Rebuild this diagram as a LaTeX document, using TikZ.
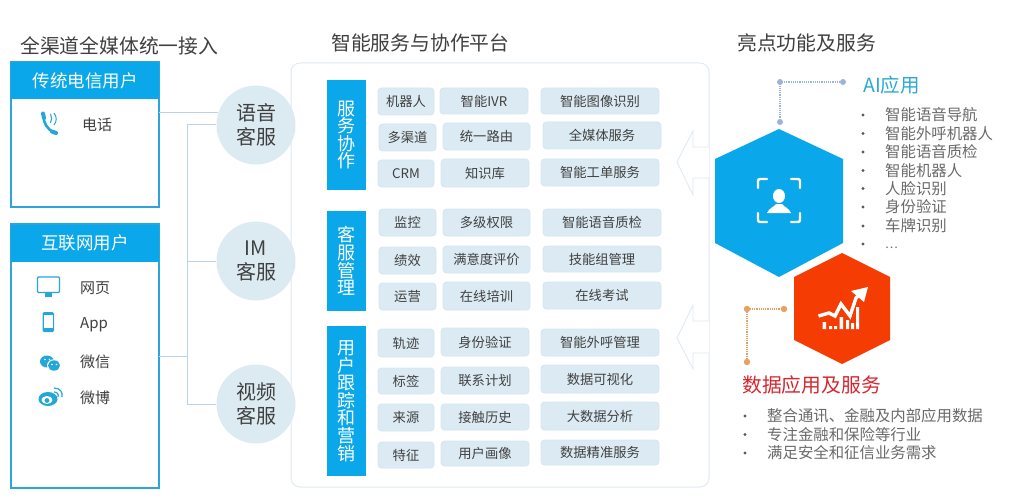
\documentclass[tikz,border=0pt]{standalone}
\usepackage{fontspec}
\setmainfont{Noto Sans CJK SC}
\usetikzlibrary{calc}
\definecolor{skyb}{HTML}{0AA8EA}
\definecolor{edgeb}{HTML}{2CA6DA}
\definecolor{cellf}{HTML}{DCEBF3}
\definecolor{celld}{HTML}{D6E6EE}
\definecolor{ringf}{HTML}{DCEBF2}
\definecolor{wire}{HTML}{BDD2E2}
\definecolor{frameline}{HTML}{E1E9F2}
\definecolor{ink}{HTML}{404040}
\definecolor{greyt}{HTML}{6A6A6A}
\definecolor{iconb}{HTML}{22A7D8}
\definecolor{aiblue}{HTML}{2BA9D4}
\definecolor{dotb}{HTML}{9DB4D6}
\definecolor{doto}{HTML}{E8A160}
\definecolor{redt}{HTML}{D8262F}
\definecolor{hexred}{HTML}{F53C02}
\newcommand{\fs}[2]{\fontsize{#1}{#2}\selectfont}
\tikzset{
  x=1pt,y=-1pt,
  cell/.style={draw=celld,fill=cellf,rounded corners=3.5pt,line width=.8pt,inner sep=0pt,text=ink,font=\fs{13.3}{15}},
  barbox/.style={fill=skyb,inner sep=0pt,text=white,align=center,font=\fs{18}{17.6}},
  headbox/.style={fill=skyb,inner sep=0pt,text=white,font=\fs{17.5}{20}},
  ringnode/.style={circle,fill=ringf,inner sep=0pt,minimum size=79pt,text=ink,align=center,font=\fs{20}{24.5}},
  heading/.style={text=ink,font=\fs{19.8}{22},inner sep=0pt,anchor=west},
  chan/.style={text=ink,font=\fs{15}{17},inner sep=0pt,anchor=west},
  item/.style={text=greyt,font=\fs{15.4}{17},inner sep=0pt,anchor=west},
  wireline/.style={draw=wire,line width=1pt},
  ghost/.style={draw=frameline,line width=.9pt,fill=white},
  bulletdot/.style={fill=greyt!85!black},
}
\newcommand{\cellbox}[6]{%
  \pgfmathsetmacro\cw{#4-#2}\pgfmathsetmacro\ch{#5-#3}%
  \node[cell,minimum width=\cw pt,minimum height=\ch pt] (#1) at ({(#2+#4)/2},{(#3+#5)/2}) {#6};}
\newcommand{\barnode}[5]{%
  \pgfmathsetmacro\ch{#4-#3}%
  \node[barbox,minimum width=39pt,minimum height=\ch pt] (#1) at (#2,{(#3+#4)/2}) {#5};}
\begin{document}
\begin{tikzpicture}
\useasboundingbox (0,0) rectangle (1015,500);
\fill[white] (0,0) rectangle (1015,500);

% titles
\node[heading] (t1) at (20,45.5) {全渠道全媒体统一接入};
\node[heading] (t2) at (331,42.5) {智能服务与协作平台};
\node[heading] (t3) at (737,42.5) {亮点功能及服务};

% left boxes
\draw[edgeb,line width=1.5pt] (11,62) rectangle (159,207);
\node[headbox,minimum width=148pt,minimum height=37pt] (tele) at (85,81) {传统电信用户};
\draw[edgeb,line width=1.5pt] (11,224) rectangle (159,488);
\node[headbox,minimum width=148pt,minimum height=37pt] (net) at (85,243) {互联网用户};
\node[chan] (l1) at (82,125) {电话};
\node[chan] (l2) at (80,288) {网页};
\node[chan] (l3) at (80,325) {App};
\node[chan] (l4) at (80,362) {微信};
\node[chan] (l5) at (80,398) {微博};

% icons: phone
\draw[iconb,line width=2.6pt,line cap=round] (43.5,116) .. controls (43.5,123) and (47,129) .. (54,132.5);
\draw[iconb,line width=4pt,line cap=round] (43,113.5) -- (44,118);
\draw[iconb,line width=4pt,line cap=round] (52,131.5) -- (56,133);
\draw[iconb,line width=1pt] (50.5,114) .. controls (52,117) and (52,120) .. (50.5,123);
\draw[iconb,line width=1pt] (54,113) .. controls (57,117) and (57,121) .. (54,125);
% monitor
\draw[iconb,line width=1.1pt,rounded corners=1pt] (37.5,277) rectangle (59.5,292.5);
\fill[iconb] (45,293) rectangle (52,296.5);
% mobile
\fill[iconb,rounded corners=1.5pt] (42.5,312) rectangle (54,332);
\fill[white] (44,315) rectangle (52.5,328);
% wechat
\fill[iconb] (47,361.5) ellipse [x radius=7,y radius=6];
\fill[white] (54,365.5) ellipse [x radius=7,y radius=6.2];
\fill[iconb] (54,365.5) ellipse [x radius=6,y radius=5.2];
\fill[white] (45,359.5) circle (.9) (49.5,359.5) circle (.9) (52,364.5) circle (.8) (56.5,364.5) circle (.8);
% weibo
\fill[iconb] (48,399) ellipse [x radius=9.5,y radius=7];
\fill[white] (47,400) ellipse [x radius=5.5,y radius=4];
\fill[iconb] (47,400.5) circle (2.4);
\draw[iconb,line width=1.2pt] (54,388) .. controls (60,388) and (63,392) .. (62,397);
\draw[iconb,line width=1.2pt] (54,392) .. controls (57,392) and (59,394) .. (58,397);

% platform frame
\draw[frameline,line width=1pt,rounded corners=9pt] (291,63) rectangle (709,487);

% service circles
\node[ringnode] (voice) at (256,125) {语音\\客服};
\node[ringnode] (im) at (256,261) {IM\\客服};
\node[ringnode] (video) at (256,404) {视频\\客服};

% connectors
\coordinate (bus) at (187,356);
\draw[wireline] (tele.east |- voice.162.5) -- (voice.162.5);
\draw[wireline] (voice.west) -- (bus |- voice.west) -- (bus |- video.west) -- (video.west);
\draw[wireline] (bus |- im.west) -- (im.west);
\draw[wireline] (net.east |- bus) -- (bus);

% bars
\barnode{b1}{346.5}{80}{190}{服\\务\\协\\作}
\barnode{b2}{346.5}{211}{311}{客\\服\\管\\理}
\barnode{b3}{346.5}{326}{476}{用\\户\\跟\\踪\\和\\营\\销}

% cells
\cellbox{c11}{378}{88}{434}{115}{机器人}
\cellbox{c12}{440}{88}{528}{114}{智能IVR}
\cellbox{c13}{541}{88}{659}{114}{智能图像识别}
\cellbox{c21}{379}{124}{436}{151}{多渠道}
\cellbox{c22}{443}{123}{530}{150}{统一路由}
\cellbox{c23}{543}{122}{661}{149}{全媒体服务}
\cellbox{c31}{378}{160}{434}{187}{CRM}
\cellbox{c32}{441}{159}{529}{187}{知识库}
\cellbox{c33}{541}{159}{659}{186}{智能工单服务}
\cellbox{c41}{379}{209}{436}{236}{监控}
\cellbox{c42}{443}{209}{530}{236}{多级权限}
\cellbox{c43}{543}{209}{661}{236}{智能语音质检}
\cellbox{c51}{379}{247}{436}{274}{绩效}
\cellbox{c52}{443}{246}{530}{273}{满意度评价}
\cellbox{c53}{543}{246}{661}{272}{技能组管理}
\cellbox{c61}{379}{283}{436}{310}{运营}
\cellbox{c62}{443}{282}{530}{310}{在线培训}
\cellbox{c63}{543}{282}{661}{309}{在线考试}
\cellbox{c71}{378}{329}{434}{357}{轨迹}
\cellbox{c72}{441}{328}{529}{356}{身份验证}
\cellbox{c73}{541}{329}{659}{356}{智能外呼管理}
\cellbox{c81}{378}{368}{434}{394}{标签}
\cellbox{c82}{441}{367}{529}{394}{联系计划}
\cellbox{c83}{541}{365}{659}{393}{数据可视化}
\cellbox{c91}{378}{404}{434}{431}{来源}
\cellbox{c92}{441}{404}{529}{430}{接触历史}
\cellbox{c93}{541}{402}{659}{430}{大数据分析}
\cellbox{c01}{378}{442}{434}{468}{特征}
\cellbox{c02}{441}{441}{529}{466}{用户画像}
\cellbox{c03}{541}{440}{659}{465}{数据精准服务}

% open arrows into the platform
\draw[ghost] (709,147) -- (693,147) -- (693,131) -- (677,162) -- (693,195) -- (693,178) -- (709,178);
\draw[ghost] (709,321) -- (693,321) -- (693,305) -- (677,338) -- (693,369) -- (693,353) -- (709,353);

% hexagons
\fill[skyb] (779,129) -- (843,159) -- (843,243) -- (779,277) -- (715,243) -- (715,159) -- cycle;
\fill[hexred] (842,253) -- (890,277) -- (890,340) -- (842,364) -- (794,340) -- (794,277) -- cycle;

% face icon
\begin{scope}[draw=white,line width=2.4pt,line cap=round,rounded corners=2pt]
\draw (758,188) -- (758,179) -- (767,179);
\draw (791,179) -- (800,179) -- (800,188);
\draw (758,213) -- (758,222) -- (767,222);
\draw (791,222) -- (800,222) -- (800,213);
\end{scope}
\fill[white] (779,196) ellipse [x radius=6,y radius=7];
\fill[white] (767,213) .. controls (769,208) and (774,207) .. (776,204) -- (782,204) .. controls (784,207) and (789,208) .. (791,213) -- cycle;

% chart icon
\fill[white] (822.5,322) rectangle (826,329) (829,326) rectangle (832,329) (834,326) rectangle (837,329) (839.5,317) rectangle (843,329) (846,320) rectangle (849,329) (851,323) rectangle (854,329) (856,307) rectangle (859,329);
\draw[white,line width=3.4pt,line join=miter] (818.5,316) -- (829,313) -- (835,316) -- (841,304) -- (850,316) -- (856,298) -- (861,293);
\fill[white] (868,287) -- (851,291) -- (864,302) -- cycle;

% AI lead
\draw[dotb,line width=1.2pt,densely dotted] (780,122) -- (780,82) -- (843,82);
\fill[dotb] (780,82) circle (3) (843,82) circle (3) (780,122) circle (3);
% data lead
\draw[doto,line width=1.2pt,densely dotted] (784,309) -- (747,309) -- (747,362);
\fill[doto] (747,309) circle (3.2) (784,309) circle (3.2) (747,362) circle (3.2);

% AI list
\node[text=aiblue,font=\fs{19.5}{22},inner sep=0pt,anchor=west] (ai) at (863,85) {AI应用};
\node[item] (a1) at (885,115) {智能语音导航};
\node[item] (a2) at (885,133.5) {智能外呼机器人};
\node[item] (a3) at (885,152) {智能语音质检};
\node[item] (a4) at (885,170.5) {智能机器人};
\node[item] (a5) at (885,188.5) {人脸识别};
\node[item] (a6) at (885,207) {身份验证};
\node[item] (a7) at (885,226) {车牌识别};
\node[item,font=\fs{12}{14}] (a8) at (885,248) {…};
\foreach \yy in {115,133.5,152,170.5,188.5,207,226,244} \fill[bulletdot] (863,\yy) circle (1.7);

% data list
\node[text=redt,font=\fs{19.8}{22},inner sep=0pt,anchor=west] (dt) at (742,385) {数据应用及服务};
\node[item] (d1) at (767,416) {整合通讯、金融及内部应用数据};
\node[item] (d2) at (767,434.5) {专注金融和保险等行业};
\node[item] (d3) at (767,453) {满足安全和征信业务需求};
\foreach \yy in {416,434.5,453} \fill[bulletdot] (745,\yy) circle (1.7);
\end{tikzpicture}
\end{document}
